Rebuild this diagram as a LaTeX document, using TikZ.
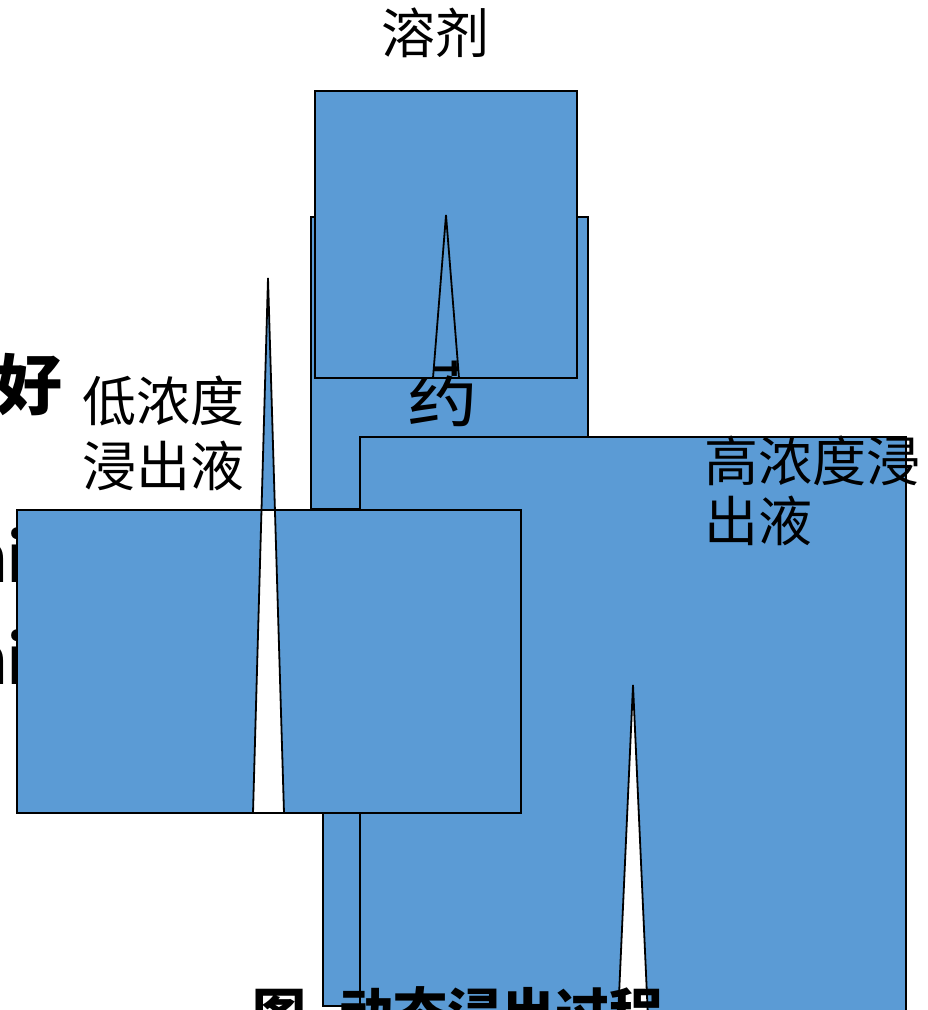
\documentclass[tikz,border=0pt]{standalone}
\usepackage{fontspec}
\setmainfont{Noto Sans CJK SC}
\definecolor{blu}{RGB}{91,155,213}
\tikzset{
  panel/.style={fill=blu, draw=black, line width=1.8pt, even odd rule, line join=miter},
  lbl/.style={inner sep=0pt, outer sep=0pt, font=\fontsize{54}{64}\selectfont},
  biglbl/.style={inner sep=0pt, outer sep=0pt, font=\fontsize{66}{76}\selectfont\bfseries},
  drug/.style={inner sep=0pt, outer sep=0pt, font=\fontsize{72}{82}\selectfont},
  ttl/.style={inner sep=0pt, outer sep=0pt, font=\fontsize{54}{64}\selectfont\bfseries}
}
\begin{document}
\begin{tikzpicture}[x=1pt,y=-1pt]
\useasboundingbox (0,0) rectangle (928,1010);
\clip (0,0) rectangle (928,1010);
% top label
\node[lbl, anchor=base] (solvent) at (435,53) {溶剂};
% partially hidden texts at left
\node[biglbl, anchor=base east] (hao) at (62,409) {好};
\node[biglbl, anchor=base east] (hi1) at (29,582) {hi};
\node[biglbl, anchor=base east] (hi2) at (29,684) {hi};
% back rectangles
\path[panel] (311,217) rectangle (588,509);
\path[panel] (323,700) rectangle (420,1006);
% drug label under top box
\node[drug, anchor=base] (drug) at (442,421) {药};
% top box with spike hole
\path[panel] (315,91) rectangle (577,378) (433,378) -- (446,215) -- (459,378) -- cycle;
% right box with spike
\path[panel] (360,437) rectangle (906,1040) (617,1040) -- (633,685) -- (649,1040) -- cycle;
% left box with spike
\path[panel] (17,510) rectangle (521,813) (253,813) -- (268,278) -- (284,813) -- cycle;
% labels on top
\node[lbl, anchor=base west] (low1) at (82,421) {低浓度};
\node[lbl, anchor=base west] (low2) at (82,486) {浸出液};
\node[lbl, anchor=base west] (high1) at (704,481) {高浓度浸};
\node[lbl, anchor=base west] (high2) at (704,541) {出液};
\node[ttl, anchor=base west] (title) at (252,1033) {图\hspace{0.62em}动态浸出过程};
\end{tikzpicture}
\end{document}
